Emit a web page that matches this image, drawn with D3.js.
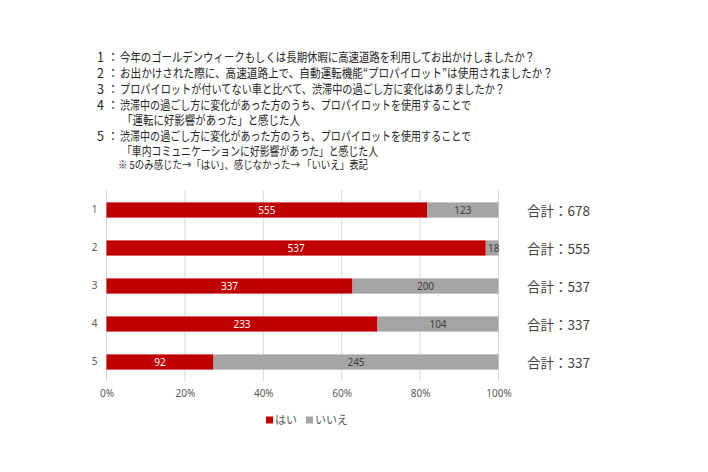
<!DOCTYPE html>
<html>
<head>
<meta charset="utf-8">
<script src="https://cdn.jsdelivr.net/npm/d3@7"></script>
<style>
    body { margin: 0; background: #fff; }
    text { font-family: "Noto Sans CJK JP", "Noto Sans", sans-serif; }
</style>
</head>
<body>
<div id="chart"></div>
<script>
// Data
var categories = ["1", "2", "3", "4", "5"];
var yesValues = [555, 537, 337, 233, 92];
var noValues = [123, 18, 200, 104, 245];
var seriesNames = ["はい", "いいえ"];
var xTicks = [0, 0.2, 0.4, 0.6, 0.8, 1];

// question text lines: prefix, body
var questions = [
    ["1 ：", "今年のゴールデンウィークもしくは長期休暇に高速道路を利用してお出かけしましたか？"],
    ["2 ：", "お出かけされた際に、高速道路上で、自動運転機能\u201Cプロパイロット\u201Dは使用されましたか？"],
    ["3 ：", "プロパイロットが付いてない車と比べて、渋滞中の過ごし方に変化はありましたか？"],
    ["4 ：", "渋滞中の過ごし方に変化があった方のうち、プロパイロットを使用することで"],
    ["", "「運転に好影響があった」と感じた人"],
    ["5 ：", "渋滞中の過ごし方に変化があった方のうち、プロパイロットを使用することで"],
    ["", "「車内コミュニケーションに好影響があった」と感じた人"]
];
var note = "※ 5のみ感じた→「はい」、感じなかった→ 「いいえ」表記";

var width = 708;
var height = 472;

var colors = ["#C00000", "#A5A5A5"];

var svg = d3
    .select("#chart")
    .append("svg")
    .attr("width", width)
    .attr("height", height);

// Question block, one text element with a tspan per line
// right edge of each body line, squeezed to match the narrow original font
var bodyEnds = [535, 553, 505, 471, 300, 471, 378];
var lineY = [62, 78, 94, 110, 125, 141, 156];

var qText = svg.append("text")
    .attr("font-size", 12.5)
    .attr("fill", "#262626");

questions.forEach(function(q, i) {
    if (q[0] !== "") {
        qText.append("tspan")
            .attr("x", 97)
            .attr("y", lineY[i])
            .text(q[0]);
    }
    var startX = q[0] === "" ? 122 : 120;
    qText.append("tspan")
        .attr("x", startX)
        .attr("y", lineY[i])
        .attr("textLength", bodyEnds[i] - startX)
        .attr("lengthAdjust", "spacingAndGlyphs")
        .text(q[1]);
});

qText.append("tspan")
    .attr("x", 118)
    .attr("y", 169)
    .attr("font-size", 11)
    .attr("textLength", 250)
    .attr("lengthAdjust", "spacingAndGlyphs")
    .text(note);

// Chart area
var x0 = 106.5, x1 = 498.5;
var yTop = 191, yBot = 381;

var xScale = d3.scaleLinear().domain([0, 1]).range([x0, x1]);
var yScale = d3.scaleBand()
    .domain(categories)
    .range([yTop, yBot])
    .paddingInner(0.6)
    .paddingOuter(0.3);

// Gridlines
svg.append("g")
    .selectAll("line")
    .data(xTicks)
    .enter()
    .append("line")
    .attr("x1", function(d) { return xScale(d); })
    .attr("x2", function(d) { return xScale(d); })
    .attr("y1", yTop - 1)
    .attr("y2", yBot)
    .attr("stroke", "#D9D9D9")
    .attr("stroke-width", 1);

// X axis labels
var xAxis = d3.axisBottom(xScale)
    .tickValues(xTicks)
    .tickFormat(d3.format(".0%"))
    .tickSize(0)
    .tickPadding(9);

var gx = svg.append("g")
    .attr("transform", "translate(0," + yBot + ")")
    .call(xAxis);
gx.select(".domain").remove();
gx.selectAll("text")
    .attr("font-size", 10)
    .attr("fill", "#595959")
    .style("font-family", "'Noto Sans', sans-serif");

// Y axis labels
var yAxis = d3.axisLeft(yScale).tickSize(0).tickPadding(9);
var gy = svg.append("g")
    .attr("transform", "translate(" + x0 + ",0)")
    .call(yAxis);
gy.select(".domain").remove();
gy.selectAll("text")
    .attr("font-size", 10)
    .attr("fill", "#595959")
    .style("font-family", "'Noto Sans', sans-serif");

// Build stacked data as shares of each row total
var rows = categories.map(function(c, i) {
    var total = yesValues[i] + noValues[i];
    return { cat: c, yes: yesValues[i], no: noValues[i], total: total };
});

var stack = d3.stack()
    .keys(["yes", "no"])
    .offset(d3.stackOffsetExpand);

var layers = stack(rows);

var bh = yScale.bandwidth();

layers.forEach(function(layer, li) {
    var g = svg.append("g");
    g.selectAll("rect")
        .data(layer)
        .enter()
        .append("rect")
        .attr("x", function(d) { return xScale(d[0]); })
        .attr("y", function(d) { return yScale(d.data.cat); })
        .attr("width", function(d) { return xScale(d[1]) - xScale(d[0]); })
        .attr("height", bh)
        .attr("fill", colors[li]);

    // value labels
    g.selectAll("text")
        .data(layer)
        .enter()
        .append("text")
        .attr("x", function(d) {
            var w = xScale(d[1]) - xScale(d[0]);
            if (w < 20) return xScale(d[1]) + 1;
            return (xScale(d[0]) + xScale(d[1])) / 2;
        })
        .attr("y", function(d) { return yScale(d.data.cat) + bh / 2; })
        .attr("dy", "0.35em")
        .attr("text-anchor", function(d) {
            var w = xScale(d[1]) - xScale(d[0]);
            return w < 20 ? "end" : "middle";
        })
        .attr("font-size", 10)
        .style("font-family", "'Noto Sans', sans-serif")
        .attr("fill", li === 0 ? "#ffffff" : "#404040")
        .text(function(d) { return li === 0 ? d.data.yes : d.data.no; });
});

// Totals on the right
svg.append("g")
    .selectAll("text")
    .data(rows)
    .enter()
    .append("text")
    .attr("x", 527)
    .attr("y", function(d) { return yScale(d.cat) + bh / 2 + 1; })
    .attr("dy", "0.35em")
    .attr("font-size", 13.5)
    .attr("fill", "#404040")
    .text(function(d) { return "合計：" + d.total; });

// Legend
var legend = svg.append("g").attr("transform", "translate(266,420)");
var legX = [0, 40];
seriesNames.forEach(function(name, i) {
    legend.append("rect")
        .attr("x", legX[i])
        .attr("y", -3.5)
        .attr("width", 7)
        .attr("height", 7)
        .attr("fill", colors[i]);
    legend.append("text")
        .attr("x", legX[i] + 9)
        .attr("y", 0)
        .attr("dy", "0.35em")
        .attr("font-size", 11)
        .attr("fill", "#595959")
        .text(name);
});
</script>
</body>
</html>
